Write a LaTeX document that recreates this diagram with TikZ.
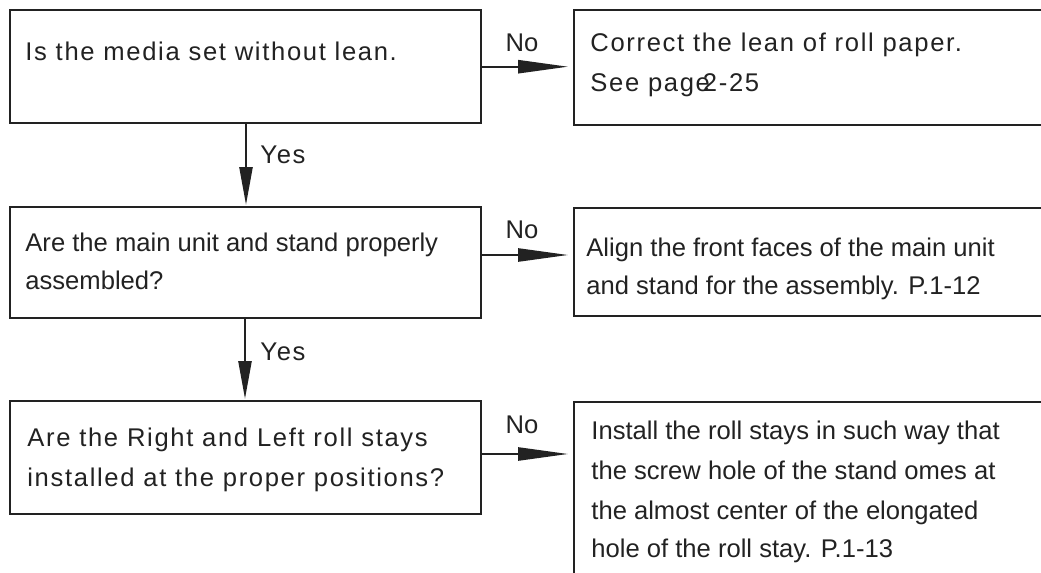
\documentclass[tikz,border=0pt]{standalone}
\usepackage{fontspec}
\setmainfont{Liberation Sans}
\newfontfamily\trkfont[LetterSpace=6.5]{Liberation Sans}
\usetikzlibrary{arrows.meta,calc}
\definecolor{ink}{HTML}{222222}
\begin{document}
\begin{tikzpicture}[x=0.5pt,y=-0.5pt,
  box/.style={draw=ink, line width=1.2pt, anchor=north west, inner sep=0pt, minimum width=235.5pt},
  rbox/.style={draw=ink, line width=1.2pt, anchor=north west, inner sep=0pt, minimum width=263.5pt},
  txt/.style={anchor=base west, inner sep=0pt, text=ink, font=\fontsize{12.8pt}{19.5pt}\selectfont},
  ttxt/.style={anchor=base west, inner sep=0pt, text=ink, font=\fontsize{12.8pt}{19.5pt}\trkfont},
  nolbl/.style={inner sep=0pt, text=ink, font=\fontsize{12.8pt}{19.5pt}\selectfont},
  yeslbl/.style={anchor=west, inner sep=0pt, text=ink, font=\fontsize{12.8pt}{19.5pt}\trkfont},
  arrh/.style={draw=ink, line width=1.2pt, -{Triangle[length=25pt,width=6.5pt]}, shorten >=2.4pt},
  arrv/.style={draw=ink, line width=1.2pt, -{Triangle[length=19pt,width=6.5pt]}, shorten >=0.5pt}
]
\useasboundingbox (0,0) rectangle (1041,573);
\fill[white] (0,0) rectangle (1041,573);
\clip (0,0) rectangle (1041,573);

% boxes
\node[box, minimum height=56.5pt] (b1) at (9,9) {};
\node[rbox, minimum height=57.5pt] (b2) at (573,9) {};
\node[box, minimum height=55.5pt] (b3) at (9,206) {};
\node[rbox, minimum height=54pt] (b4) at (573,207) {};
\node[box, minimum height=56.5pt] (b5) at (9,400) {};
\node[rbox, minimum height=100pt] (b6) at (573,401) {};

% texts
\node[ttxt] (t1) at (25,61) {Is the media set without lean.};
\node[ttxt] (t2a) at (590,52) {Correct the lean of roll paper.};
\node[ttxt] (t2b) at (590,91) {See page\kern-3.5pt 2-25};
\node[txt] (t3a) at (25,251) {Are the main unit and stand properly};
\node[txt] (t3b) at (25,289) {assembled?};
\node[txt] (t4a) at (586,256) {Align the front faces of the main unit};
\node[txt] (t4b) at (586,294) {and stand for the assembly. P.1-12};
\node[ttxt] (t5a) at (27,446) {Are the Right and Left roll stays};
\node[ttxt] (t5b) at (27,486) {installed at the proper positions?};
\node[txt] (t6a) at (591,439) {Install the roll stays in such way that};
\node[txt] (t6b) at (591,479) {the screw hole of the stand omes at};
\node[txt] (t6c) at (591,519) {the almost center of the elongated};
\node[txt] (t6d) at (591,557) {hole of the roll stay. P.1-13};

% labels
\node[nolbl] (n1) at (522,43) {No};
\node[nolbl] (n2) at (522,230) {No};
\node[nolbl] (n3) at (522,425) {No};
\node[yeslbl] (y1) at (260,155) {Yes};
\node[yeslbl] (y2) at (260,352) {Yes};

% connectors
\draw[arrh] (b1.east) -- (b1.east -| b2.west);
\coordinate (a2) at ($(b3.north east)+(0,49)$);
\draw[arrh] (a2) -- (a2 -| b4.west);
\coordinate (a3) at ($(b5.north east)+(0,54)$);
\draw[arrh] (a3) -- (a3 -| b6.west);
\coordinate (v1) at ($(b1.south west)+(237,0)$);
\draw[arrv] (v1) -- (v1 |- b3.north);
\coordinate (v2) at ($(b3.south west)+(236,0)$);
\draw[arrv] (v2) -- (v2 |- b5.north);
\end{tikzpicture}
\end{document}
